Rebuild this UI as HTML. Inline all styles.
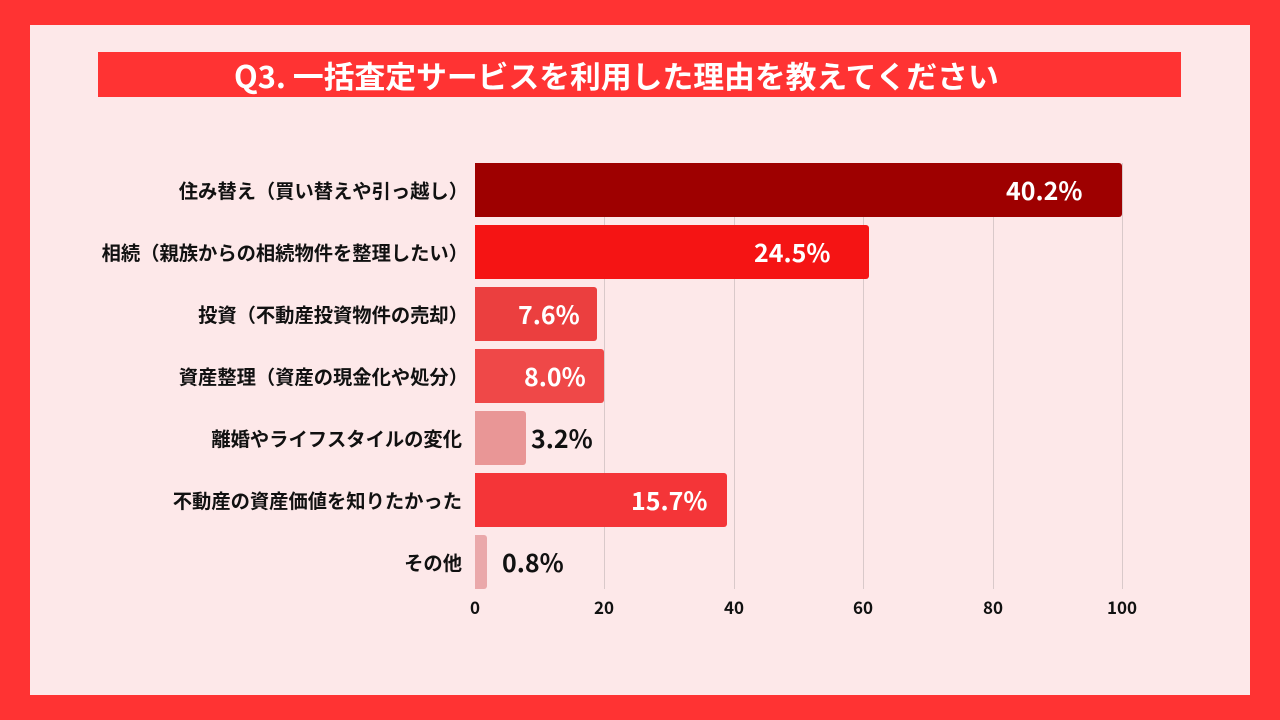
<!DOCTYPE html>
<html><head><meta charset="utf-8"><style>
*{margin:0;padding:0;box-sizing:border-box}
body{width:1280px;height:720px;background:#ff3333;position:relative;overflow:hidden;font-family:"Noto Sans CJK JP","Liberation Sans",sans-serif}
.panel{position:absolute;left:30px;top:25px;width:1220px;height:670px;background:#fde8e9}
.title{position:absolute;left:98px;top:52px;width:1083px;height:45px;background:#ff3333;color:#fff;font-weight:bold;font-size:30.8px;line-height:45px;padding-left:136px;white-space:nowrap}
.grid{position:absolute;top:163px;width:1px;height:426px;background:#d9c9ca}
.bar{position:absolute;left:475px;height:54px;border-radius:0 3px 3px 0}
.lbl{position:absolute;right:818px;font-size:19.3px;font-weight:bold;color:#111;height:54px;line-height:54px;white-space:nowrap}
.lbl.p{right:812px}
.val{position:absolute;font-size:25px;font-weight:bold;height:54px;line-height:54px;white-space:nowrap}
.tick{position:absolute;top:594px;font-size:17px;font-weight:bold;color:#111;width:60px;text-align:center}
</style></head><body>
<div class="panel"></div>
<div class="title">Q3. 一括査定サービスを利用した理由を教えてください</div>
<div class="grid" style="left:604px"></div>
<div class="grid" style="left:734px"></div>
<div class="grid" style="left:863px"></div>
<div class="grid" style="left:993px"></div>
<div class="grid" style="left:1122px"></div>

<div class="bar" style="top:163px;width:647px;background:#9e0000"></div>
<div class="bar" style="top:225px;width:394px;background:#f51414"></div>
<div class="bar" style="top:287px;width:122px;background:#eb3f3f"></div>
<div class="bar" style="top:349px;width:129px;background:#ef4848"></div>
<div class="bar" style="top:411px;width:51px;background:#e99696"></div>
<div class="bar" style="top:473px;width:252px;background:#f43538"></div>
<div class="bar" style="top:535px;width:12px;background:#eaa8aa"></div>

<div class="lbl p" style="top:163px">住み替え（買い替えや引っ越し）</div>
<div class="lbl p" style="top:225px">相続（親族からの相続物件を整理したい）</div>
<div class="lbl p" style="top:287px">投資（不動産投資物件の売却）</div>
<div class="lbl p" style="top:349px">資産整理（資産の現金化や処分）</div>
<div class="lbl" style="top:411px">離婚やライフスタイルの変化</div>
<div class="lbl" style="top:473px">不動産の資産価値を知りたかった</div>
<div class="lbl" style="top:535px">その他</div>

<div class="val" style="top:163px;left:1006px;color:#fff">40.2%</div>
<div class="val" style="top:225px;left:754px;color:#fff">24.5%</div>
<div class="val" style="top:287px;left:518px;color:#fff">7.6%</div>
<div class="val" style="top:349px;left:524px;color:#fff">8.0%</div>
<div class="val" style="top:411px;left:531px;color:#111">3.2%</div>
<div class="val" style="top:473px;left:631px;color:#fff">15.7%</div>
<div class="val" style="top:535px;left:502px;color:#111">0.8%</div>

<div class="tick" style="left:445px">0</div>
<div class="tick" style="left:574px">20</div>
<div class="tick" style="left:704px">40</div>
<div class="tick" style="left:833px">60</div>
<div class="tick" style="left:963px">80</div>
<div class="tick" style="left:1092px">100</div>
</body></html>
